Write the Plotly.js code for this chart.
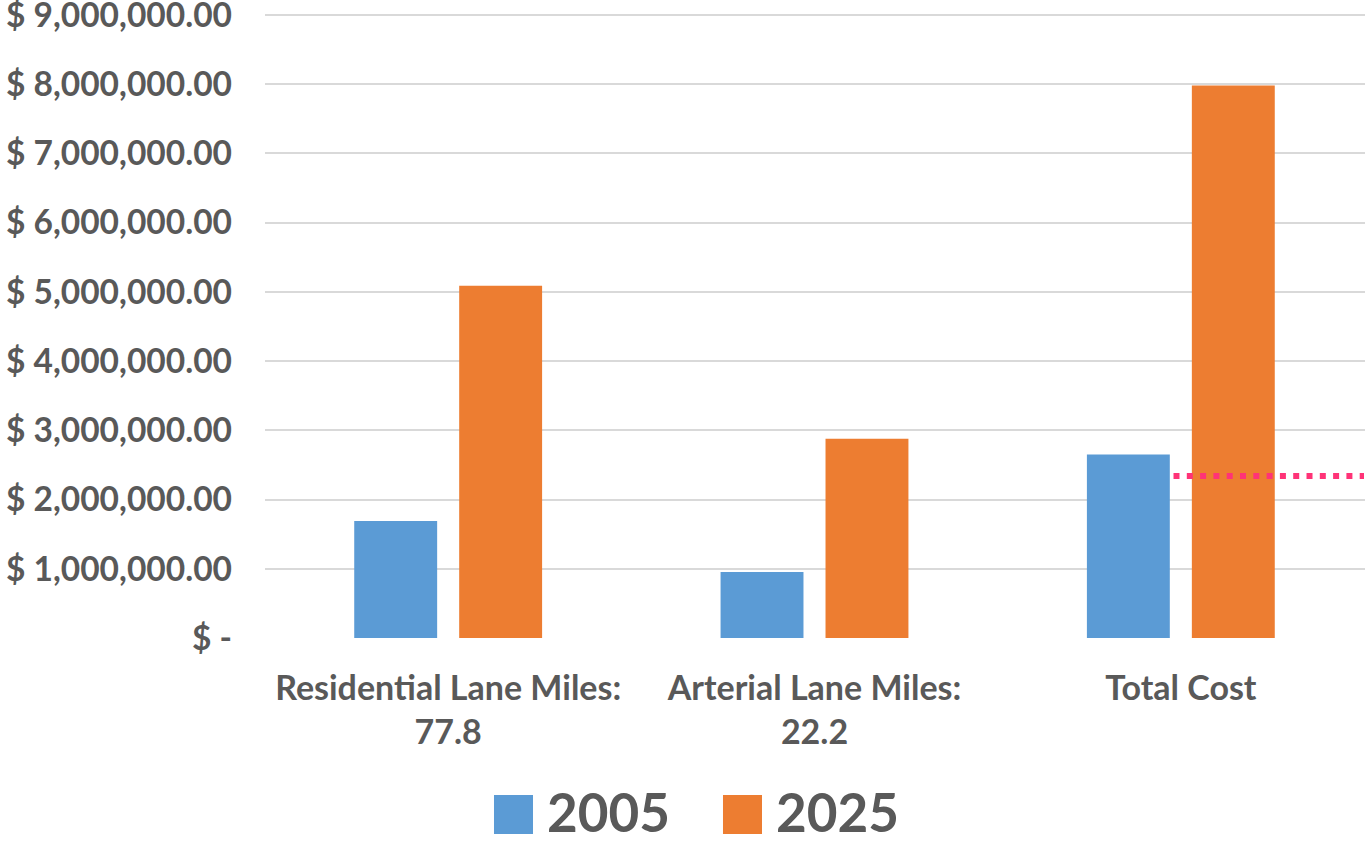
<!DOCTYPE html>
<html>
<head>
<meta charset="utf-8">
<script src="https://cdn.plot.ly/plotly-3.0.1.min.js"></script>
<style>
html,body{margin:0;padding:0;background:#fff;overflow:hidden;}
#chart{width:1367px;height:843px;}
</style>
</head>
<body>
<div id="chart"></div>
<script>
const categories = ["Residential Lane Miles:<br>77.8", "Arterial Lane Miles:<br>22.2", "Total Cost"];
const seriesNames = ["2005", "2025"];
const values2005 = [1690000, 955000, 2650000];
const values2025 = [5090000, 2880000, 7980000];
const seriesColors = ["#5B9BD5", "#ED7D31"];
const tickValues = [0, 1000000, 2000000, 3000000, 4000000, 5000000, 6000000, 7000000, 8000000, 9000000];
const tickLabels = ["$ -", "$ 1,000,000.00", "$ 2,000,000.00", "$ 3,000,000.00", "$ 4,000,000.00",
  "$ 5,000,000.00", "$ 6,000,000.00", "$ 7,000,000.00", "$ 8,000,000.00", "$ 9,000,000.00"];
const referenceLine = [2340000];

const textColor = "#595959";
const fontFamily = "Lato, 'Open Sans', sans-serif";

const traces = [
  {type: "bar", name: seriesNames[0], x: categories, y: values2005, marker: {color: seriesColors[0]}, hoverinfo: "none"},
  {type: "bar", name: seriesNames[1], x: categories, y: values2025, marker: {color: seriesColors[1]}, hoverinfo: "none"}
];

const legendShapes = [];
const legendAnn = [];
const legendX = [0.2078, 0.4156];
seriesNames.forEach((n, i) => {
  legendShapes.push({type: "rect", xref: "paper", yref: "paper", x0: legendX[i], x1: legendX[i] + 0.0354,
    y0: -0.25, y1: -0.312, fillcolor: seriesColors[i], line: {width: 0}, layer: "above"});
  legendAnn.push({xref: "paper", yref: "paper", x: legendX[i] + 0.0463, y: -0.277, xanchor: "left", yanchor: "middle",
    text: "<b>" + n + "</b>", showarrow: false, font: {family: fontFamily, size: 53, color: textColor}});
});

const layout = {
  width: 1367, height: 843,
  margin: {l: 265, r: 0, t: 10, b: 205},
  paper_bgcolor: "#ffffff", plot_bgcolor: "#ffffff",
  showlegend: false,
  barmode: "group",
  bargap: 0.427,
  bargroupgap: 0.21,
  font: {family: fontFamily, color: textColor},
  xaxis: {
    type: "category",
    tickfont: {family: fontFamily, size: 34, color: textColor, weight: "bold"},
    showgrid: false, showline: false, zeroline: false, ticks: "",
    ticklabelstandoff: 27
  },
  yaxis: {
    range: [0, 9072000],
    tickvals: tickValues, ticktext: tickLabels,
    tickfont: {family: fontFamily, size: 33.5, color: textColor, weight: "bold"},
    showgrid: true, gridcolor: "#D9D9D9", gridwidth: 2,
    zeroline: false, showline: false, ticks: "",
    ticklabelstandoff: 32,
    ticklabeloverflow: "allow"
  },
  shapes: [
    {type: "line", xref: "x", yref: "y", x0: 1.98, x1: 2.5, y0: referenceLine[0], y1: referenceLine[0],
     line: {color: "#FF3377", width: 6, dash: "6px,7.3px"}, layer: "above"}
  ].concat(legendShapes),
  annotations: legendAnn
};

Plotly.newPlot("chart", traces, layout, {staticPlot: true});
</script>
</body>
</html>
